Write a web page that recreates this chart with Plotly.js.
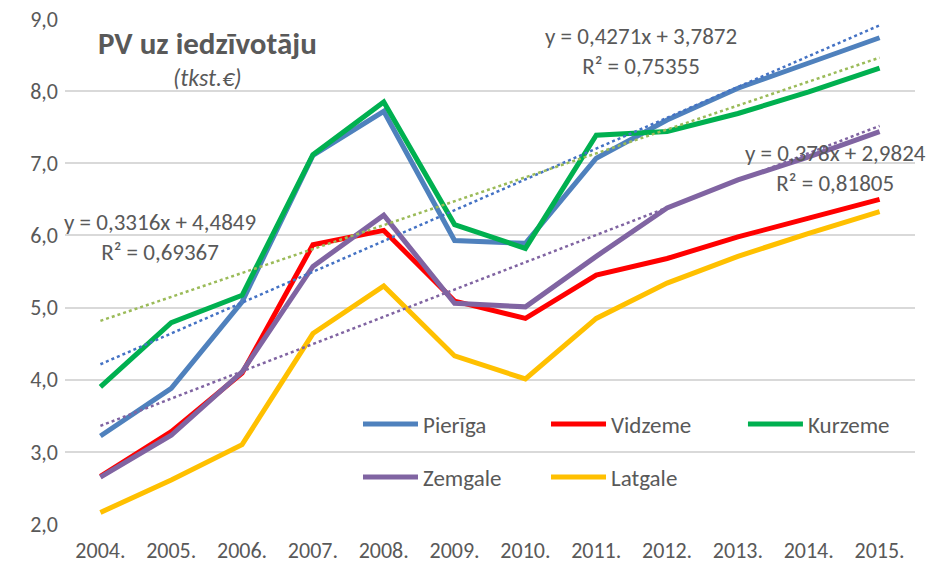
<!DOCTYPE html>
<html>
<head>
<meta charset="utf-8">
<script src="https://cdn.plot.ly/plotly-3.0.1.min.js"></script>
<style>html,body{margin:0;padding:0;background:#fff;}#chart{width:931px;height:565px;}</style>
</head>
<body>
<div id="chart"></div>
<script>
const years = ["2004.","2005.","2006.","2007.","2008.","2009.","2010.","2011.","2012.","2013.","2014.","2015."];
const pieriga = [3.22,3.88,5.08,7.11,7.72,5.93,5.89,7.07,7.60,8.04,8.39,8.74];
const vidzeme = [2.66,3.28,4.09,5.87,6.07,5.09,4.85,5.45,5.68,5.98,6.24,6.50];
const kurzeme = [3.90,4.79,5.17,7.12,7.85,6.15,5.82,7.39,7.44,7.69,7.99,8.32];
const zemgale = [2.65,3.23,4.11,5.57,6.28,5.06,5.01,5.71,6.38,6.77,7.09,7.44];
const latgale = [2.16,2.61,3.10,4.64,5.30,4.33,4.01,4.85,5.34,5.71,6.03,6.33];
const seriesNames = ["Pierīga","Vidzeme","Kurzeme","Zemgale","Latgale"];
// printed linear trendline coefficients (x = 1..12)
const trendPieriga = {slope:0.4271, intercept:3.7872, r2:"0,75355", slopeTxt:"0,4271", intTxt:"3,7872"};
const trendKurzeme = {slope:0.3316, intercept:4.4849, r2:"0,69367", slopeTxt:"0,3316", intTxt:"4,4849"};
const trendZemgale = {slope:0.378,  intercept:2.9824, r2:"0,81805", slopeTxt:"0,378",  intTxt:"2,9824"};

const FONT = "Carlito, Lato, 'Open Sans', sans-serif";
const TXT = "#595959";

function line(name, y, color, legend){
  return {type:"scatter", mode:"lines", x:years, y:y, name:name,
    line:{color:color, width:5, shape:"linear"}, legend:legend, hoverinfo:"skip"};
}
function trend(t, color){
  const xs = [years[0], years[years.length-1]];
  const ys = [t.slope*1 + t.intercept, t.slope*years.length + t.intercept];
  return {type:"scatter", mode:"lines", x:xs, y:ys, showlegend:false,
    line:{color:color, width:2.5, dash:"dot"}, hoverinfo:"skip"};
}
const data = [
  line(seriesNames[0], pieriga, "#4F81BD", "legend"),
  line(seriesNames[1], vidzeme, "#FF0000", "legend2"),
  line(seriesNames[2], kurzeme, "#00B050", "legend3"),
  line(seriesNames[3], zemgale, "#8064A2", "legend4"),
  line(seriesNames[4], latgale, "#FFC000", "legend5"),
  trend(trendPieriga, "#4472C4"),
  trend(trendKurzeme, "#9BBB59"),
  trend(trendZemgale, "#8064A2")
];
function eq(t){ return "y = " + t.slopeTxt + "x + " + t.intTxt + "<br>R² = " + t.r2; }
function leg(x, y){
  return {orientation:"v", x:x, y:y, xanchor:"left", yanchor:"middle",
    font:{family:FONT, size:23, color:TXT}, bgcolor:"rgba(0,0,0,0)", borderwidth:0, itemwidth:55};
}
const layout = {
  width:931, height:565,
  margin:{l:65, r:16, t:19, b:41},
  paper_bgcolor:"#fff", plot_bgcolor:"#fff",
  separators:", ",
  showlegend:true,
  font:{family:FONT, color:TXT},
  xaxis:{type:"category", range:[-0.5, 11.5], showgrid:false, zeroline:false, showline:false,
    ticks:"", ticklabelstandoff:11, tickfont:{family:FONT, size:22, color:TXT}, fixedrange:true},
  yaxis:{range:[2,9], dtick:1, tickformat:".1f", showgrid:true, gridcolor:"#D9D9D9", gridwidth:2,
    zeroline:false, showline:false, ticks:"", ticklabelstandoff:6, tickfont:{family:FONT, size:22, color:TXT}, fixedrange:true},
  legend:leg(0.3447, 0.198),
  legend2:leg(0.5659, 0.198),
  legend3:leg(0.7976, 0.198),
  legend4:leg(0.3447, 0.093),
  legend5:leg(0.5659, 0.093),
  annotations:[
    {xref:"paper", yref:"paper", x:0.1682, y:0.952, text:"<b>PV uz iedzīvotāju</b>", showarrow:false,
     font:{family:FONT, size:31, color:TXT}, xanchor:"center", yanchor:"middle"},
    {xref:"paper", yref:"paper", x:0.1682, y:0.8832, text:"<i>(tkst.€)</i>", showarrow:false,
     font:{family:FONT, size:24, color:TXT}, xanchor:"center", yanchor:"middle"},
    {xref:"paper", yref:"paper", x:0.1118, y:0.568, text:eq(trendKurzeme), showarrow:false,
     font:{family:FONT, size:23, color:TXT}, xanchor:"center", yanchor:"middle", align:"center"},
    {xref:"paper", yref:"paper", x:0.6776, y:0.9366, text:eq(trendPieriga), showarrow:false,
     font:{family:FONT, size:23, color:TXT}, xanchor:"center", yanchor:"middle", align:"center"},
    {xref:"paper", yref:"paper", x:0.9059, y:0.705, text:eq(trendZemgale), showarrow:false,
     font:{family:FONT, size:23, color:TXT}, xanchor:"center", yanchor:"middle", align:"center"}
  ]
};
Plotly.newPlot("chart", data, layout, {displayModeBar:false, staticPlot:true});
</script>
</body>
</html>
